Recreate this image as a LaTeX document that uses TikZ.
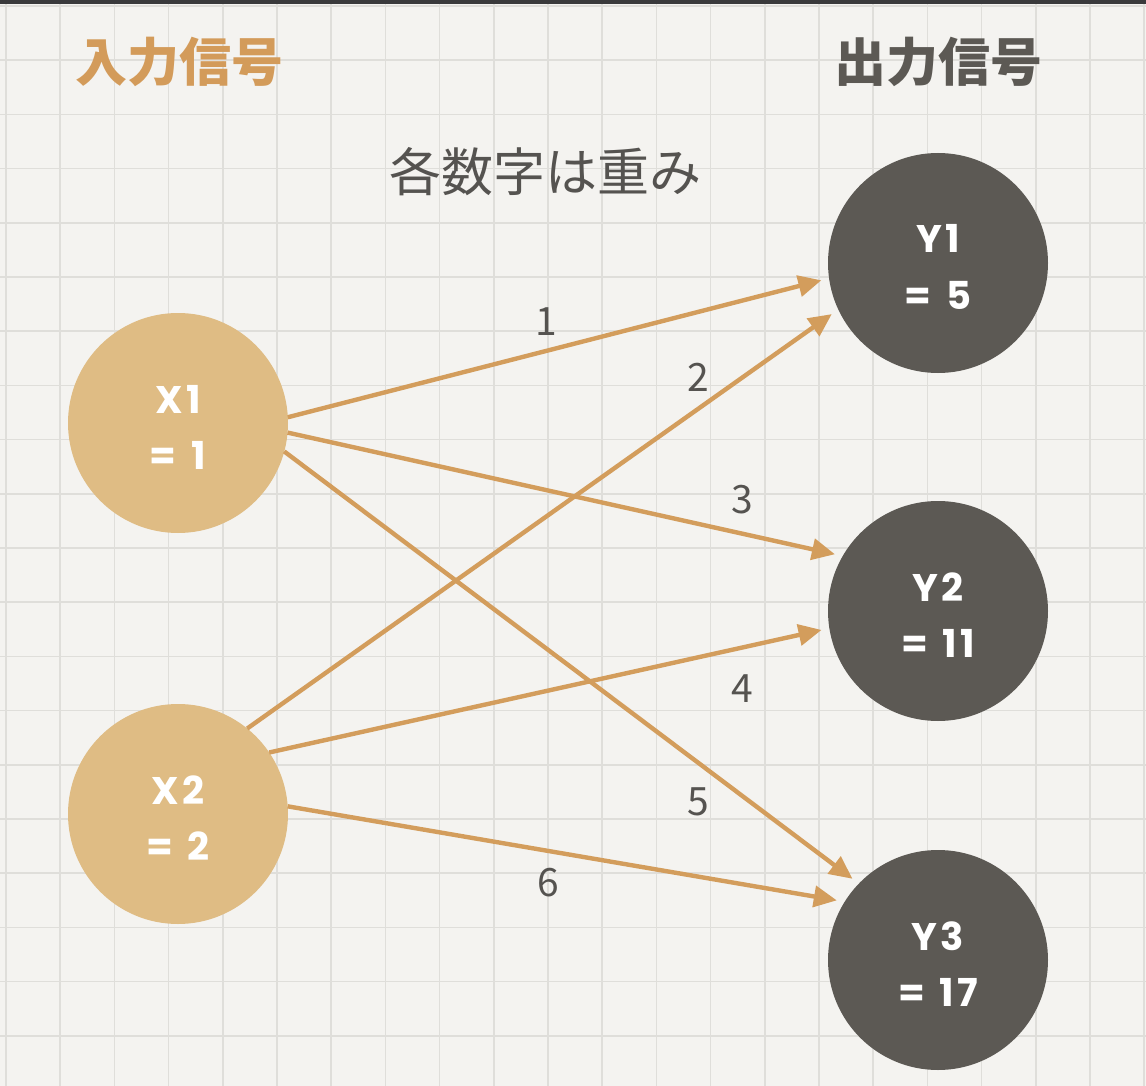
\documentclass[tikz,border=0pt]{standalone}
\usepackage{fontspec}
\newfontfamily\jp{Noto Sans CJK JP}
\newfontfamily\pop{Poppins}[LetterSpace=8]
\usetikzlibrary{arrows.meta}
\definecolor{paper}{HTML}{F4F3F0}
\definecolor{gridc}{HTML}{DFDEDA}
\definecolor{topbar}{HTML}{3A3A3C}
\definecolor{tan}{HTML}{DFBC84}
\definecolor{arrowc}{HTML}{D39D5C}
\definecolor{titleor}{HTML}{D39B5A}
\definecolor{darkc}{HTML}{5C5954}
\definecolor{textg}{HTML}{555350}
\tikzset{
  gridline/.style={draw=gridc, line width=1.7pt},
  innode/.style={circle, fill=tan, minimum size=220pt, inner sep=0pt, outer sep=0pt},
  outnode/.style={innode, fill=darkc},
  ctext/.style={anchor=base, inner sep=0pt, text=white,
    font=\pop\bfseries\fontsize{38.5}{44}\selectfont},
  wire/.style={draw=arrowc, line width=4.4pt, shorten >=8pt,
    -{Triangle[length=23pt,width=21pt]}},
  weight/.style={text=textg, font=\jp\fontsize{39}{44}\selectfont, inner sep=0pt},
  heading/.style={font=\jp\bfseries\fontsize{52}{60}\selectfont, inner sep=0pt}
}
\begin{document}
\begin{tikzpicture}[x=1pt, y=-1pt]
\useasboundingbox (0,0) rectangle (1146,1086);
\fill[paper] (0,0) rectangle (1146,1086);
\foreach \i in {0,...,21} \draw[gridline] ({6+54.2*\i},0) -- ({6+54.2*\i},1086);
\foreach \i in {0,...,20} \draw[gridline] (0,{6+54.2*\i}) -- (1146,{6+54.2*\i});
\fill[topbar] (0,0) rectangle (1146,4.5);

\node[heading, text=titleor] (tin) at (179,62) {入力信号};
\node[heading, text=darkc] (tout) at (938,62) {出力信号};
\node[text=textg, font=\jp\fontsize{52}{60}\selectfont, inner sep=0pt] (note) at (545,172) {各数字は重み};

\node[innode] (X1) at (178,423) {};
\node[innode] (X2) at (178,814) {};
\node[outnode] (Y1) at (938,263) {};
\node[outnode] (Y2) at (938,611) {};
\node[outnode] (Y3) at (938,960) {};

\foreach \n/\a/\b in {X1/X1/1, X2/X2/2, Y1/Y1/5, Y2/Y2/11, Y3/Y3/17}{
  \node[ctext] (\n name) at ([yshift=10pt]\n.center) {\a};
  \node[ctext] (\n val) at ([yshift=-46pt]\n.center) {=\hspace{15pt}\b};
}

\draw[wire] (X1.3) -- (Y1.188);
\draw[wire] (X1.-5) -- (Y2.150);
\draw[wire] (X1.-15.5) -- (Y3.136);
\draw[wire] (X2.51.6) -- (Y1.205);
\draw[wire] (X2.34) -- (Y2.189.5);
\draw[wire] (X2.4.6) -- (Y3.148);

\node[weight] (w1) at (546,322) {1};
\node[weight] (w2) at (698,377) {2};
\node[weight] (w3) at (742,500) {3};
\node[weight] (w4) at (742,689) {4};
\node[weight] (w5) at (698,802) {5};
\node[weight] (w6) at (548,883) {6};
\end{tikzpicture}
\end{document}
